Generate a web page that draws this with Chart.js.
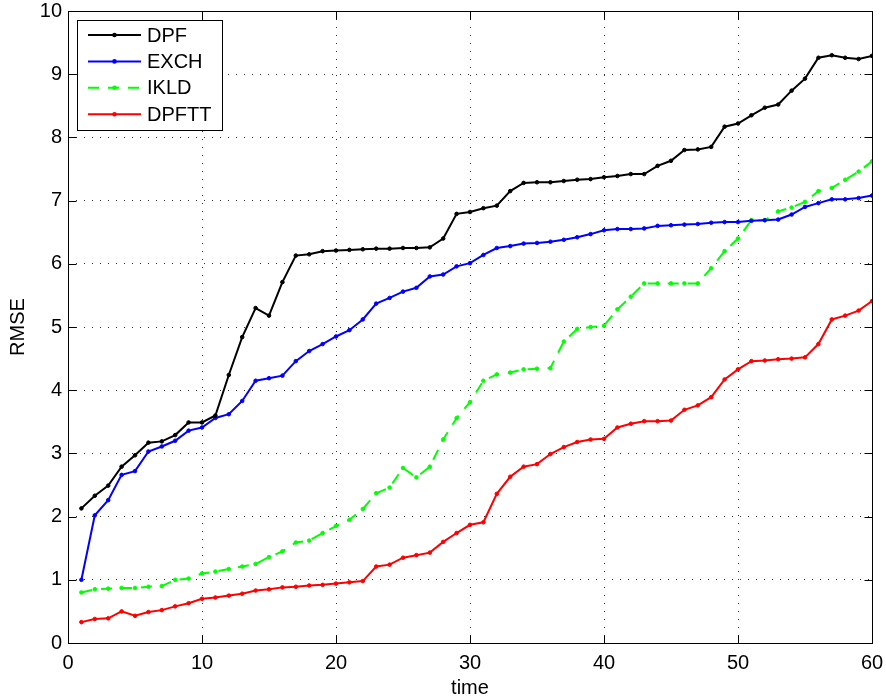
<!DOCTYPE html>
<html>
<head>
<meta charset="utf-8">
<script src="https://cdn.jsdelivr.net/npm/chart.js@4/dist/chart.umd.min.js"></script>
<style>
  body { margin: 0; background: #fff; }
  #rmseChart { display: block; }
</style>
</head>
<body>
<canvas id="rmseChart" width="886" height="700"></canvas>
<script>
const time = [1, 2, 3, 4, 5, 6, 7, 8, 9, 10,
              11, 12, 13, 14, 15, 16, 17, 18, 19, 20,
              21, 22, 23, 24, 25, 26, 27, 28, 29, 30,
              31, 32, 33, 34, 35, 36, 37, 38, 39, 40,
              41, 42, 43, 44, 45, 46, 47, 48, 49, 50,
              51, 52, 53, 54, 55, 56, 57, 58, 59, 60];

const dpf = [2.13, 2.33, 2.49, 2.79, 2.97, 3.17, 3.19, 3.29, 3.49, 3.49,
             3.60, 4.24, 4.84, 5.30, 5.18, 5.71, 6.13, 6.15, 6.20, 6.21,
             6.22, 6.23, 6.24, 6.24, 6.25, 6.25, 6.26, 6.40, 6.79, 6.82,
             6.88, 6.92, 7.15, 7.28, 7.29, 7.29, 7.31, 7.33, 7.34, 7.37,
             7.39, 7.42, 7.42, 7.55, 7.63, 7.80, 7.81, 7.85, 8.17, 8.22,
             8.35, 8.47, 8.52, 8.74, 8.93, 9.26, 9.30, 9.26, 9.24, 9.29];

const exch = [1.00, 2.02, 2.26, 2.66, 2.72, 3.03, 3.11, 3.20, 3.36, 3.41,
              3.56, 3.62, 3.83, 4.15, 4.19, 4.23, 4.46, 4.62, 4.73, 4.85,
              4.95, 5.12, 5.37, 5.46, 5.56, 5.62, 5.80, 5.83, 5.96, 6.01,
              6.14, 6.25, 6.28, 6.32, 6.33, 6.35, 6.38, 6.42, 6.47, 6.53,
              6.55, 6.55, 6.56, 6.60, 6.61, 6.62, 6.63, 6.65, 6.66, 6.66,
              6.68, 6.69, 6.70, 6.78, 6.90, 6.96, 7.02, 7.02, 7.04, 7.08];

const ikld = [0.80, 0.85, 0.86, 0.87, 0.87, 0.89, 0.90, 1.00, 1.02, 1.10,
              1.13, 1.17, 1.21, 1.25, 1.36, 1.45, 1.59, 1.62, 1.74, 1.85,
              1.95, 2.12, 2.37, 2.46, 2.77, 2.62, 2.79, 3.22, 3.56, 3.81,
              4.15, 4.25, 4.28, 4.33, 4.34, 4.35, 4.77, 4.97, 5.00, 5.02,
              5.28, 5.48, 5.69, 5.69, 5.69, 5.69, 5.69, 5.93, 6.20, 6.40,
              6.69, 6.69, 6.83, 6.89, 6.98, 7.15, 7.20, 7.33, 7.46, 7.62];

const dpftt = [0.33, 0.38, 0.39, 0.50, 0.43, 0.49, 0.52, 0.58, 0.63, 0.70,
               0.72, 0.75, 0.78, 0.83, 0.85, 0.88, 0.89, 0.91, 0.92, 0.94,
               0.96, 0.98, 1.21, 1.24, 1.35, 1.39, 1.43, 1.60, 1.74, 1.87,
               1.91, 2.36, 2.63, 2.79, 2.83, 2.99, 3.10, 3.18, 3.22, 3.23,
               3.41, 3.47, 3.51, 3.51, 3.52, 3.69, 3.76, 3.89, 4.17, 4.33,
               4.46, 4.47, 4.49, 4.50, 4.52, 4.73, 5.12, 5.18, 5.26, 5.41];

const FONT = "'Liberation Sans', Arial, sans-serif";

function series(label, values, color, dash) {
    return {
        label: label,
        data: values.map((v, i) => ({ x: time[i], y: v })),
        borderColor: color,
        backgroundColor: color,
        borderWidth: 2,
        borderDash: dash || [],
        pointRadius: 1.8,
        pointBorderWidth: 1,
        pointBorderColor: color,
        pointBackgroundColor: color,
        tension: 0,
        fill: false
    };
}

// matlab-style box with inward ticks and a boxed legend
const axesBox = {
    id: "axesBox",
    afterDraw(chart) {
        const ctx = chart.ctx;
        const a = chart.chartArea;
        const xs = chart.scales.x, ys = chart.scales.y;
        const L = Math.round(a.left) + 0.5, R = Math.round(a.right) + 0.5;
        const T = Math.round(a.top) + 0.5, B = Math.round(a.bottom) + 0.5;
        ctx.save();
        ctx.strokeStyle = "#000";
        ctx.lineWidth = 1;
        ctx.setLineDash([]);
        ctx.beginPath();
        ys.ticks.forEach(t => {
            const y = Math.round(ys.getPixelForValue(t.value)) + 0.5;
            ctx.moveTo(L, y); ctx.lineTo(L + 8, y);
            ctx.moveTo(R, y); ctx.lineTo(R - 8, y);
        });
        xs.ticks.forEach(t => {
            const x = Math.round(xs.getPixelForValue(t.value)) + 0.5;
            ctx.moveTo(x, B); ctx.lineTo(x, B - 8);
            ctx.moveTo(x, T); ctx.lineTo(x, T + 8);
        });
        ctx.stroke();
        ctx.strokeRect(L, T, R - L, B - T);

        // legend
        const bx = 77.5, by = 20.5, bw = 145, bh = 110;
        ctx.fillStyle = "#fff";
        ctx.fillRect(bx, by, bw, bh);
        ctx.strokeRect(bx, by, bw, bh);
        ctx.font = "20px " + FONT;
        ctx.textBaseline = "middle";
        ctx.textAlign = "left";
        chart.data.datasets.forEach((ds, i) => {
            const y = 35 + i * 26.4;
            ctx.strokeStyle = ds.borderColor;
            ctx.lineWidth = 2;
            ctx.setLineDash(ds.borderDash);
            ctx.beginPath();
            ctx.moveTo(88, y); ctx.lineTo(141, y);
            ctx.stroke();
            ctx.setLineDash([]);
            ctx.fillStyle = ds.borderColor;
            ctx.beginPath();
            ctx.arc(114.5, y, 2.3, 0, Math.PI * 2);
            ctx.fill();
            ctx.fillStyle = "#000";
            ctx.fillText(ds.label, 147, y + 1);
        });
        ctx.restore();
    }
};

Chart.defaults.font.family = FONT;
Chart.defaults.font.size = 20;
Chart.defaults.color = "#000";

new Chart(document.getElementById("rmseChart"), {
    type: "line",
    data: {
        datasets: [
            series("DPF", dpf, "#000000"),
            series("EXCH", exch, "#0000ff"),
            series("IKLD", ikld, "#00ff00", [11, 9]),
            series("DPFTT", dpftt, "#ff0000")
        ]
    },
    options: {
        responsive: false,
        animation: false,
        events: [],
        layout: {
            padding: { top: 11, right: 14, left: 0, bottom: 0 }
        },
        plugins: {
            legend: { display: false },
            tooltip: { enabled: false }
        },
        scales: {
            x: {
                type: "linear",
                min: 0,
                max: 60,
                afterFit: s => {
                    s.height = 57;
                    s.paddingLeft = 0;
                    s.paddingRight = 0;
                },
                ticks: { stepSize: 10, padding: 8, maxRotation: 0 },
                grid: { color: "#333", lineWidth: 1, drawTicks: false },
                border: { display: false, dash: [1, 7] },
                title: { display: true, text: "time", padding: { top: 0, bottom: 0 } }
            },
            y: {
                min: 0,
                max: 10,
                afterFit: s => {
                    s.width = 68;
                    s.paddingTop = 0;
                    s.paddingBottom = 0;
                },
                ticks: { stepSize: 1, padding: 6 },
                grid: { color: "#333", lineWidth: 1, drawTicks: false },
                border: { display: false, dash: [1, 7] },
                title: { display: true, text: "RMSE", padding: { top: 6, bottom: 0 } }
            }
        }
    },
    plugins: [axesBox]
});
</script>
</body>
</html>
